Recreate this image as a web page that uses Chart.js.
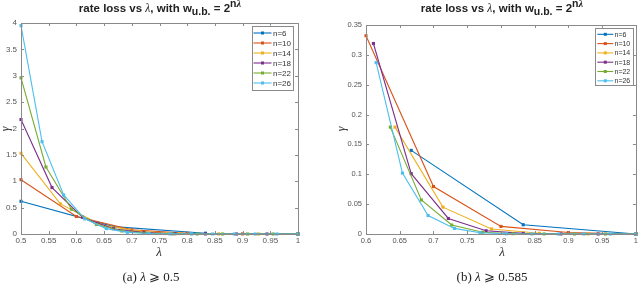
<!DOCTYPE html>
<html>
<head>
<meta charset="utf-8">
<script src="https://cdn.jsdelivr.net/npm/chart.js@4/dist/chart.umd.min.js"></script>
<style>
  html,body{margin:0;padding:0;background:#fff;}
  #root{position:relative;width:640px;height:286px;overflow:hidden;background:#fff;}
  canvas{position:absolute;top:0;}
  .ttl{position:absolute;top:1px;font-family:"Liberation Sans",Arial,sans-serif;font-weight:bold;font-size:11.5px;color:#222;white-space:nowrap;transform:translateX(-50%);line-height:14px;}
  .ttl sub{font-size:10.5px;vertical-align:-3px;line-height:0;}
  .ttl sup{font-size:10.5px;vertical-align:5px;line-height:0;}
  .m{font-family:"Liberation Serif","DejaVu Serif",serif;font-style:italic;font-weight:normal;}
  .xl{position:absolute;font-family:"Liberation Serif","DejaVu Serif",serif;font-style:italic;font-size:13px;color:#333;transform:translate(-50%,-50%);}
  .yl{position:absolute;font-family:"Liberation Serif","DejaVu Serif",serif;font-style:italic;font-size:12px;color:#333;transform:translate(-50%,-50%) rotate(-90deg);}
  .cap{position:absolute;top:269px;font-family:"Liberation Serif","DejaVu Serif",serif;font-size:13px;color:#222;white-space:nowrap;transform:translateX(-50%);}
</style>
</head>
<body>
<div id="root">
  <canvas id="ca" width="320" height="286" style="left:0"></canvas>
  <canvas id="cb" width="320" height="286" style="left:320px"></canvas>
  <div class="ttl" style="left:160px">rate loss vs <span class="m">λ</span>, with w<sub>u.b.</sub> = 2<sup>n<span class="m" style="font-weight:bold">λ</span></sup></div>
  <div class="ttl" style="left:502px">rate loss vs <span class="m">λ</span>, with w<sub>u.b.</sub> = 2<sup>n<span class="m" style="font-weight:bold">λ</span></sup></div>
  <div class="xl" style="left:159px;top:252px">λ</div>
  <div class="xl" style="left:502px;top:252px">λ</div>
  <div class="yl" style="left:5px;top:129px">γ</div>
  <div class="yl" style="left:341px;top:129px">γ</div>
  <div class="cap" style="left:151px">(a) <i>λ</i> ⩾ 0.5</div>
  <div class="cap" style="left:492px">(b) <i>λ</i> ⩾ 0.585</div>
</div>
<script>
// ---- data ----
const seriesNames = ['n=6','n=10','n=14','n=18','n=22','n=26'];
const lambda6  = [0.5, 0.667, 0.833, 1];
const gamma6   = [0.62, 0.14, 0.0155, 0];
const lambda10 = [0.5, 0.6, 0.7, 0.8, 0.9, 1];
const gamma10  = [1.03, 0.332, 0.0795, 0.0127, 0.0025, 0];
const lambda14 = [0.5, 0.571, 0.643, 0.714, 0.786, 0.857, 0.929, 1];
const gamma14  = [1.53, 0.57, 0.179, 0.045, 0.0085, 0.0012, 0.0001, 0];
const lambda18 = [0.5, 0.556, 0.611, 0.667, 0.722, 0.778, 0.833, 0.889, 0.944, 1];
const gamma18  = [2.17, 0.88, 0.319, 0.101, 0.026, 0.0055, 0.001, 0.0001, 0, 0];
const lambda22 = [0.5, 0.545, 0.591, 0.636, 0.682, 0.727, 0.773, 0.818, 0.864, 0.909, 0.955, 1];
const gamma22  = [2.96, 1.27, 0.47, 0.179, 0.057, 0.015, 0.003, 0.0005, 0.0001, 0, 0, 0];
const lambda26 = [0.5, 0.538, 0.577, 0.615, 0.654, 0.692, 0.731, 0.769, 0.808, 0.846, 0.885, 0.923, 0.962, 1];
const gamma26  = [3.95, 1.75, 0.74, 0.287, 0.102, 0.031, 0.0094, 0.0022, 0.0004, 0.0001, 0, 0, 0, 0];

const xTicksA = [0.5, 0.55, 0.6, 0.65, 0.7, 0.75, 0.8, 0.85, 0.9, 0.95, 1];
const yTicksA = [0, 0.5, 1, 1.5, 2, 2.5, 3, 3.5, 4];
const xTicksB = [0.6, 0.65, 0.7, 0.75, 0.8, 0.85, 0.9, 0.95, 1];
const yTicksB = [0, 0.05, 0.1, 0.15, 0.2, 0.25, 0.3, 0.35];
const minLambdaB = 0.6;

const colors = ['#0072BD','#D95319','#EDB120','#7E2F8E','#77AC30','#4DBEEE'];
const lambdas = [lambda6, lambda10, lambda14, lambda18, lambda22, lambda26];
const gammas  = [gamma6, gamma10, gamma14, gamma18, gamma22, gamma26];

function fmt(v){ return String(Math.round(v*1000)/1000); }

function makeDatasets(minX){
  return seriesNames.map((name,i)=>({
    label: name,
    data: lambdas[i].map((x,j)=>({x:x, y:gammas[i][j]})).filter(p=>p.x >= minX - 1e-9),
    borderColor: colors[i],
    backgroundColor: colors[i],
    borderWidth: 1.1,
    pointStyle: 'rect',
    pointRadius: 2.2,
    pointBorderWidth: 0,
    pointHoverRadius: 2.2,
    tension: 0,
    clip: false,
    order: seriesNames.length - i
  }));
}

const framePlugin = {
  id: 'frame',
  afterDraw(chart, args, o) {
    const ctx = chart.ctx;
    const {left, right, top, bottom} = chart.chartArea;
    const xs = chart.scales.x, ys = chart.scales.y;
    ctx.save();
    ctx.strokeStyle = '#8a8a8a';
    ctx.lineWidth = 1;
    ctx.strokeRect(Math.round(left)+0.5, Math.round(top)+0.5, Math.round(right-left), Math.round(bottom-top));
    ctx.beginPath();
    o.xt.forEach(v=>{
      const p = Math.round(xs.getPixelForValue(v))+0.5;
      ctx.moveTo(p, bottom); ctx.lineTo(p, bottom-3);
      ctx.moveTo(p, top); ctx.lineTo(p, top+3);
    });
    o.yt.forEach(v=>{
      const p = Math.round(ys.getPixelForValue(v))+0.5;
      ctx.moveTo(left, p); ctx.lineTo(left+3, p);
      ctx.moveTo(right, p); ctx.lineTo(right-3, p);
    });
    ctx.stroke();
    // legend
    const L = o.legend;
    ctx.fillStyle = '#fff';
    ctx.fillRect(L.x, L.y, L.w, L.h);
    ctx.strokeStyle = '#8a8a8a';
    ctx.strokeRect(Math.round(L.x)+0.5, Math.round(L.y)+0.5, Math.round(L.w), Math.round(L.h));
    ctx.font = L.font + 'px "Liberation Sans", Arial, sans-serif';
    ctx.textBaseline = 'middle';
    ctx.textAlign = 'left';
    chart.data.datasets.forEach((ds,i)=>{
      const yy = L.row0 + i*L.rowH;
      ctx.strokeStyle = ds.borderColor;
      ctx.lineWidth = 1.1;
      ctx.beginPath(); ctx.moveTo(L.lx0, yy); ctx.lineTo(L.lx1, yy); ctx.stroke();
      ctx.fillStyle = ds.borderColor;
      const mx = (L.lx0+L.lx1)/2;
      ctx.fillRect(mx-1.5, yy-1.5, 3, 3);
      ctx.fillStyle = '#333';
      ctx.fillText(ds.label, L.tx, yy+0.5);
    });
    ctx.restore();
  }
};

function makeChart(id, minX, xmin, xmax, ymin, ymax, xt, yt, yWidth, padRight, padTop, fontSize, legend){
  return new Chart(document.getElementById(id), {
    type: 'line',
    data: { datasets: makeDatasets(minX) },
    options: {
      responsive: false,
      animation: false,
      events: [],
      layout: { padding: { left: 0, right: padRight, top: padTop, bottom: 0 } },
      plugins: { legend: {display:false}, tooltip: {enabled:false}, title:{display:false},
                 frame: { xt: xt, yt: yt, legend: legend } },
      scales: {
        x: {
          type: 'linear', min: xmin, max: xmax,
          grid: { display: false, drawTicks: false },
          border: { display: false },
          afterBuildTicks: s => { s.ticks = xt.map(v=>({value:v})); },
          afterFit: s => { s.height = 52; },
          ticks: { padding: 2, color: '#555', maxRotation: 0, autoSkip: false, callback: v => fmt(v),
                   font: { family: '"Liberation Sans", Arial, sans-serif', size: fontSize } }
        },
        y: {
          type: 'linear', min: ymin, max: ymax,
          grid: { display: false, drawTicks: false },
          border: { display: false },
          afterBuildTicks: s => { s.ticks = yt.map(v=>({value:v})); },
          afterFit: s => { s.width = yWidth; },
          ticks: { padding: 4, color: '#555', autoSkip: false, callback: v => fmt(v),
                   font: { family: '"Liberation Sans", Arial, sans-serif', size: fontSize } }
        }
      }
    },
    plugins: [framePlugin]
  });
}

makeChart('ca', 0, 0.5, 1, 0, 4, xTicksA, yTicksA, 21, 22, 23, 8,
  {x:251.7, y:25.7, w:40.6, h:63.6, row0:33, rowH:10, lx0:253.5, lx1:271.5, tx:273, font:8});
makeChart('cb', minLambdaB, 0.6, 1, 0, 0.35, xTicksB, yTicksB, 46, 2, 25, 7.5,
  {x:275.3, y:27.7, w:38, h:56.6, row0:34.3, rowH:9.3, lx0:277.3, lx1:293.3, tx:294.5, font:7});
</script>
</body>
</html>
